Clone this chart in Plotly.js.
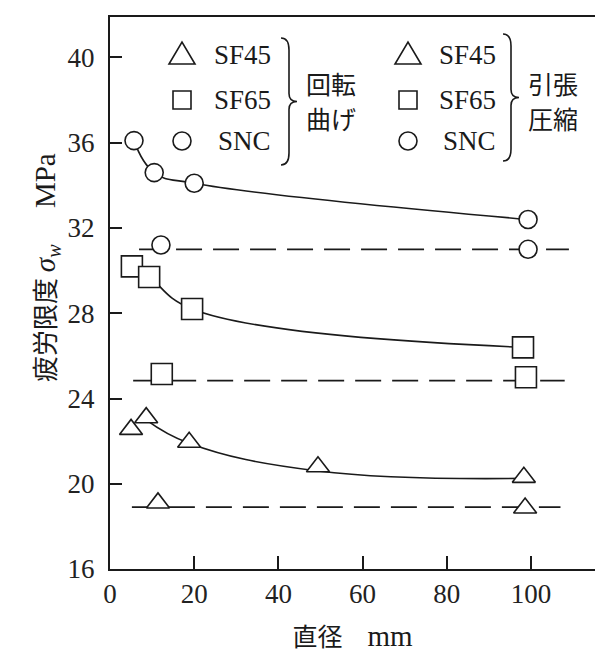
<!DOCTYPE html>
<html>
<head>
<meta charset="utf-8">
<script src="https://cdn.plot.ly/plotly-3.0.1.min.js"></script>
<style>html,body{margin:0;padding:0;background:#fff;}#chart{width:595px;height:655px;}</style>
</head>
<body>
<div id="chart"></div>
<script>
// ---- data ----
// rotating bending (solid curves)
const sncRbX  = [5.7, 10.5, 20.0, 99.3];
const sncRbY  = [36.1, 34.6, 34.1, 32.4];
const sf65RbX = [5.2, 9.3, 19.5, 98.1];
const sf65RbY = [30.2, 29.7, 28.2, 26.4];
const sf45RbX = [5.0, 8.6, 18.8, 49.4, 98.3];
const sf45RbY = [22.55, 23.1, 21.95, 20.8, 20.3];
// hand-drawn fit curve for SF45 (passes along triangle bases)
const sf45FitX = [8.6, 18.8, 49.4, 98.3];
const sf45FitY = [23.0, 21.9, 20.6, 20.25];
// tension-compression (dashed levels)
const sncTcX  = [12.1, 99.3];
const sncTcY  = [31.2, 31.0];
const sf65TcX = [12.3, 98.8];
const sf65TcY = [25.15, 25.0];
const sf45TcX = [11.4, 98.6];
const sf45TcY = [19.1, 18.86];
const sncLevelX  = [6.9, 109];  const sncLevelY  = [31.0, 31.0];
const sf65LevelX = [5.5, 108];  const sf65LevelY = [24.84, 24.84];
const sf45LevelX = [5.2, 107];  const sf45LevelY = [18.9, 18.9];
// axes
const xTicks = [0, 20, 40, 60, 80, 100];
const yTicks = [16, 20, 24, 28, 32, 36, 40];
const legendNames = ['SF45', 'SF65', 'SNC'];
const legendGroups = [['回転', '曲げ'], ['引張', '圧縮']];

// ---- style ----
const INK = '#1a1a1a';
const SERIF = 'Liberation Serif';
const CJK = 'Noto Sans CJK JP';
const W = 595, H = 655, ML = 110, MR = 0, MT = 17, MB = 86;
const PW = W - ML - MR, PH = H - MT - MB;
const px = v => (v - ML) / PW;          // pixel -> paper x
const py = v => (H - MB - v) / PH;      // pixel -> paper y

function markerTrace(x, y, sym, size) {
  return {x: x, y: y, type: 'scatter', mode: 'markers', hoverinfo: 'skip',
    marker: {symbol: sym, size: size, color: 'rgba(255,255,255,1)',
             line: {color: INK, width: 1.6}}};
}
function lineTrace(x, y, dashed) {
  return {x: x, y: y, type: 'scatter', mode: 'lines', hoverinfo: 'skip',
    line: dashed ? {color: INK, width: 1.8, dash: '26px,11px'}
                 : {color: INK, width: 1.6, shape: 'spline', smoothing: 1.2}};
}

const data = [
  lineTrace(sncLevelX, sncLevelY, true),
  lineTrace(sf65LevelX, sf65LevelY, true),
  lineTrace(sf45LevelX, sf45LevelY, true),
  lineTrace(sncRbX, sncRbY, false),
  lineTrace(sf65RbX, sf65RbY, false),
  lineTrace(sf45FitX, sf45FitY, false),
  markerTrace(sncRbX, sncRbY, 'circle', 18),
  markerTrace(sf65RbX, sf65RbY, 'square', 21),
  markerTrace(sf45RbX, sf45RbY, 'triangle-up', 20),
  markerTrace(sncTcX, sncTcY, 'circle', 18),
  markerTrace(sf65TcX, sf65TcY, 'square', 21),
  markerTrace(sf45TcX, sf45TcY, 'triangle-up', 20)
];

// ---- legend drawn as annotations + shapes ----
const shapes = [];
const annotations = [];
const rowsY = [55, 100, 141];
const cols = [{sym: 182, textR: 273, braceL: 281, braceB: 289, braceT: 297, top: 38, bot: 165, labX: 331},
              {sym: 408, textR: 498, braceL: 503, braceB: 511, braceT: 519, top: 34, bot: 161, labX: 553}];
const lineSty = {color: INK, width: 1.6};
function P(x, y) { return px(x).toFixed(5) + ',' + py(y).toFixed(5); }
cols.forEach((c, ci) => {
  const ty = rowsY[0];
  shapes.push({type: 'path', xref: 'paper', yref: 'paper', line: lineSty,
    path: 'M' + P(c.sym - 13, ty + 9) + ' L' + P(c.sym + 13, ty + 9) + ' L' + P(c.sym, ty - 13) + ' Z'});
  const sy = rowsY[1];
  shapes.push({type: 'rect', xref: 'paper', yref: 'paper', line: lineSty,
    x0: px(c.sym - 9), x1: px(c.sym + 9), y0: py(sy + 9), y1: py(sy - 9)});
  const cy = rowsY[2];
  shapes.push({type: 'circle', xref: 'paper', yref: 'paper', line: lineSty,
    x0: px(c.sym - 9), x1: px(c.sym + 9), y0: py(cy + 9), y1: py(cy - 9)});
  legendNames.forEach((n, i) => {
    annotations.push({text: n, xref: 'paper', yref: 'paper', x: px(c.textR), y: py(rowsY[i]),
      xanchor: 'right', yanchor: 'middle', showarrow: false,
      font: {family: SERIF, size: 27, color: INK}});
  });
  const ym = (c.top + c.bot) / 2;
  shapes.push({type: 'path', xref: 'paper', yref: 'paper', line: lineSty,
    path: 'M' + P(c.braceL, c.top) + ' Q' + P(c.braceB, c.top) + ' ' + P(c.braceB, c.top + 12) +
          ' L' + P(c.braceB, ym - 8) + ' Q' + P(c.braceB, ym) + ' ' + P(c.braceT, ym) +
          ' Q' + P(c.braceB, ym) + ' ' + P(c.braceB, ym + 8) +
          ' L' + P(c.braceB, c.bot - 12) + ' Q' + P(c.braceB, c.bot) + ' ' + P(c.braceL, c.bot)});
  legendGroups[ci].forEach((t, k) => {
    annotations.push({text: t, xref: 'paper', yref: 'paper', x: px(c.labX), y: py(k === 0 ? 83 : 118),
      xanchor: 'center', yanchor: 'middle', showarrow: false,
      font: {family: CJK, size: 25, color: INK}});
  });
});

// y-axis title
annotations.push({text: '疲労限度 <span style="font-family:Liberation Serif;font-size:29px"><i>σ<sub>w</sub></i>　 MPa</span>',
  xref: 'paper', yref: 'paper',
  x: px(45), y: py(268), xanchor: 'center', yanchor: 'middle', textangle: -90, showarrow: false,
  font: {family: CJK, size: 26, color: INK}});

function axisBase() {
  return {showline: true, linecolor: INK, linewidth: 2, ticks: 'inside',
    tickcolor: INK, tickwidth: 2, showgrid: false, zeroline: false, fixedrange: true,
    tickfont: {family: 'Times New Roman, Liberation Serif, serif', size: 27, color: '#222'}};
}

const layout = {
  width: W, height: H, margin: {l: ML, r: MR, t: MT, b: MB},
  font: {family: SERIF, size: 26, color: INK},
  paper_bgcolor: '#fff', plot_bgcolor: '#fff', showlegend: false,
  xaxis: Object.assign(axisBase(), {range: [0, 115.2], tickmode: 'array', tickvals: xTicks,
    ticklen: 13, mirror: true,
    title: {text: '直径　<span style="font-family:Liberation Serif;font-size:29px">mm</span>', font: {family: CJK, size: 25, color: INK}, standoff: 20}}),
  yaxis: Object.assign(axisBase(), {range: [16, 41.9], tickmode: 'array', tickvals: yTicks,
    ticklen: 12, ticklabelstandoff: 8}),
  shapes: shapes, annotations: annotations
};

Plotly.newPlot('chart', data, layout, {displayModeBar: false, staticPlot: true});
</script>
</body>
</html>
